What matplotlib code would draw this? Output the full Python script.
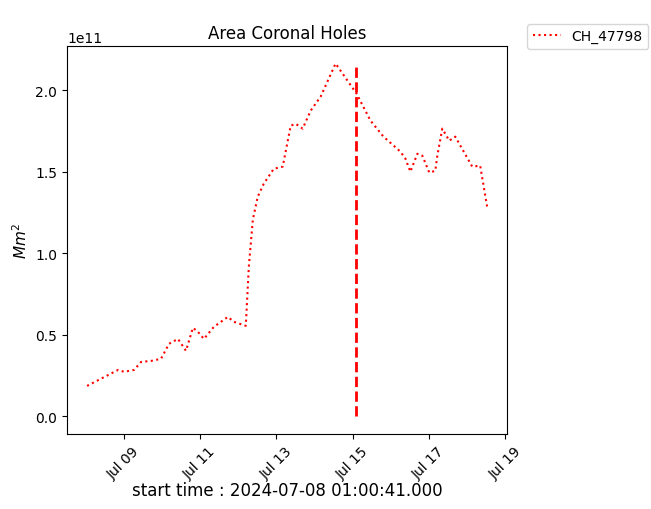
import numpy as np
import pandas as pd
import matplotlib
matplotlib.use('Agg')
import matplotlib.pyplot as plt
import matplotlib.dates as mdates

# Area of coronal hole CH_47798 (values in 1e11 Mm^2).
times = ['2024-07-08 01:00', '2024-07-08 20:33', '2024-07-09 00:19', '2024-07-09 03:27',
         '2024-07-09 06:36', '2024-07-09 11:00', '2024-07-09 17:15', '2024-07-09 23:32',
         '2024-07-10 04:33', '2024-07-10 10:12', '2024-07-10 15:13', '2024-07-10 19:36',
         '2024-07-10 22:45', '2024-07-11 02:31', '2024-07-11 08:47', '2024-07-11 17:34',
         '2024-07-11 21:20', '2024-07-12 04:52', '2024-07-12 06:45', '2024-07-12 09:16',
         '2024-07-12 12:23', '2024-07-12 16:09', '2024-07-12 22:26', '2024-07-13 04:05',
         '2024-07-13 09:06', '2024-07-13 12:14', '2024-07-13 16:38', '2024-07-13 21:39',
         '2024-07-14 03:55', '2024-07-14 13:20', '2024-07-15 02:31', '2024-07-15 11:18',
         '2024-07-15 19:27', '2024-07-16 06:07', '2024-07-16 09:16', '2024-07-16 12:23',
         '2024-07-16 16:47', '2024-07-16 19:55', '2024-07-17 00:19', '2024-07-17 04:05',
         '2024-07-17 05:20', '2024-07-17 08:28', '2024-07-17 12:52', '2024-07-17 16:38',
         '2024-07-18 03:17', '2024-07-18 08:18', '2024-07-18 12:40']
area = [0.187, 0.285, 0.273, 0.279, 0.285, 0.334, 0.340, 0.353,
        0.445, 0.475, 0.402, 0.543, 0.518, 0.475, 0.549, 0.610,
        0.580, 0.555, 0.917, 1.205, 1.347, 1.426, 1.518, 1.531,
        1.782, 1.794, 1.764, 1.874, 1.960, 2.163, 1.979, 1.813,
        1.715, 1.623, 1.580, 1.500, 1.610, 1.598, 1.494, 1.506,
        1.598, 1.764, 1.690, 1.715, 1.531, 1.537, 1.285]
marker_time = '2024-07-15 02:00'
start_label = 'start time : 2024-07-08 01:00:41.000'

t = pd.to_datetime(times)
a = np.array(area) * 1e11

fig = plt.figure(figsize=(6.51, 5.10), dpi=100)
ax = fig.add_axes([0.103, 0.147, 0.676, 0.761])

ax.plot(t, a, 'r:', linewidth=1.5, label='CH_47798')
ax.vlines(pd.to_datetime(marker_time), 0, a.max(), colors='r', linestyles='--', linewidth=2)

ax.set_title('Area Coronal Holes')
ax.set_ylabel('$Mm^2$', fontsize=11)
ax.set_xlabel(start_label, fontsize=12, labelpad=0)

ax.xaxis.set_major_locator(mdates.DayLocator(bymonthday=[9, 11, 13, 15, 17, 19]))
ax.xaxis.set_major_formatter(mdates.DateFormatter('%b %d'))
plt.setp(ax.get_xticklabels(), rotation=45)

ax.legend(loc='upper left', bbox_to_anchor=(1.03, 1.075))

fig.savefig('out.png', dpi=100)
